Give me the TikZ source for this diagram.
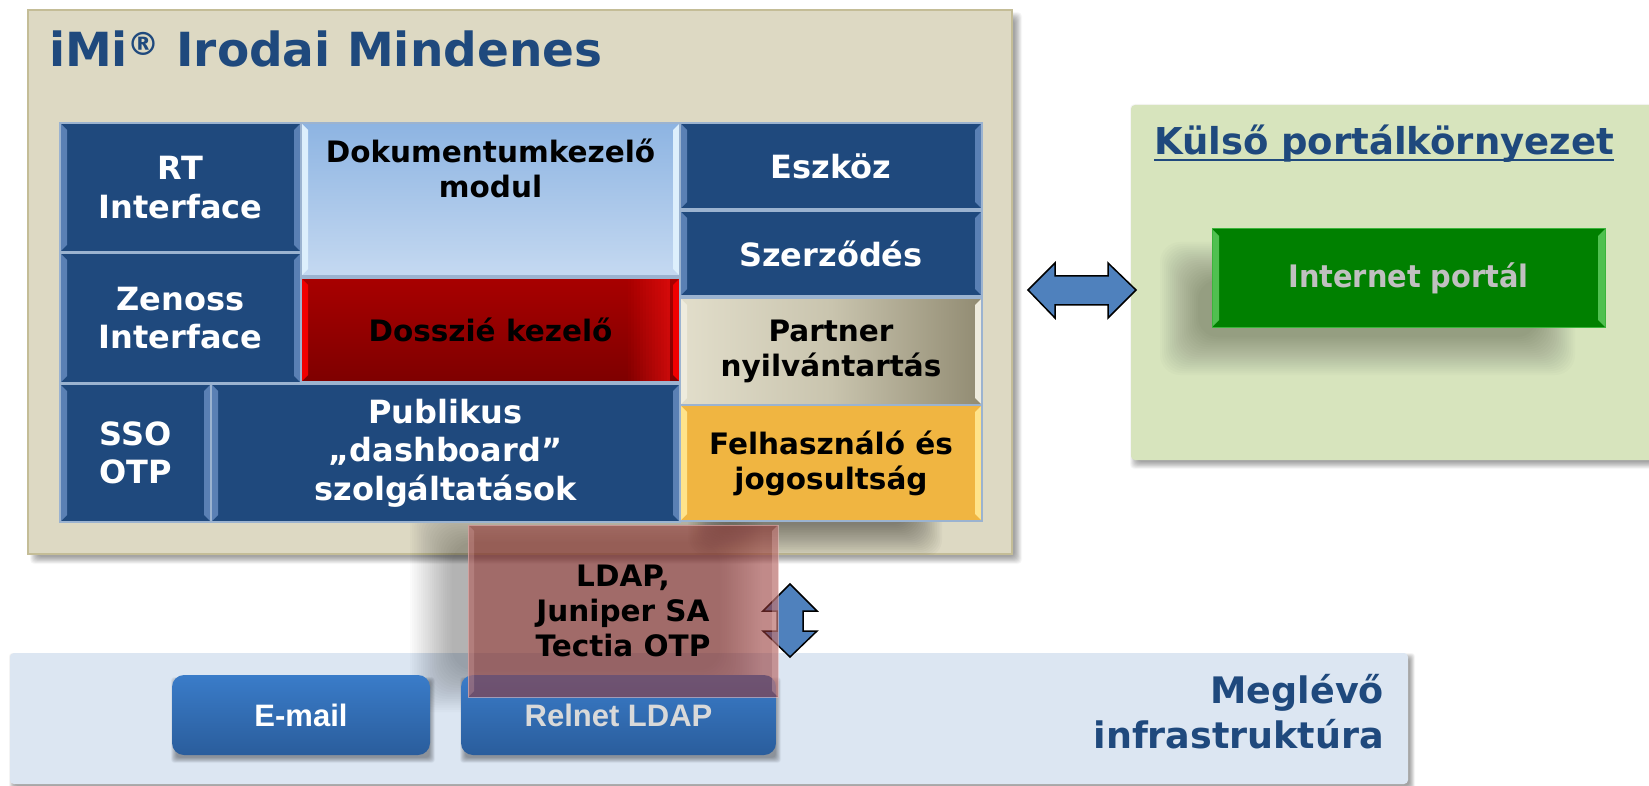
\documentclass[tikz,border=0pt]{standalone}
\usepackage{fontspec}
\setmainfont{DejaVu Sans}
\newfontfamily\arialfont{Liberation Sans}
\usepackage{graphicx}
\definecolor{titleblue}{HTML}{1F497D}
\definecolor{boxblue}{HTML}{1F497D}
\definecolor{bevblue}{HTML}{5A80B4}
\definecolor{gridline}{HTML}{9BB3D0}
\definecolor{beige}{HTML}{DDD9C3}
\definecolor{beigeline}{HTML}{C4BD97}
\definecolor{greenbg}{HTML}{D7E4BD}
\definecolor{infrabg}{HTML}{DCE6F2}
\definecolor{arrowblue}{HTML}{4F81BD}
\definecolor{doktop}{HTML}{8DB4E2}
\definecolor{dokbot}{HTML}{C5D9F1}
\definecolor{dokbev}{HTML}{DDEFFC}
\definecolor{redtop}{HTML}{A80000}
\definecolor{redbot}{HTML}{7E0000}
\definecolor{redbev}{HTML}{F00000}
\definecolor{redglow}{HTML}{F01010}
\definecolor{parleft}{HTML}{E2DECB}
\definecolor{parmid}{HTML}{C9C4AE}
\definecolor{parright}{HTML}{918B72}
\definecolor{parbev}{HTML}{EEEBDD}
\definecolor{felfill}{HTML}{F0B541}
\definecolor{felbev}{HTML}{FFE38A}
\definecolor{portalgreen}{HTML}{008000}
\definecolor{portalbev}{HTML}{50C050}
\definecolor{portalline}{HTML}{3CB43C}
\definecolor{portaltext}{HTML}{C0C0C0}
\definecolor{btntop}{HTML}{3A7CC9}
\definecolor{btnbot}{HTML}{2A5D9C}
\definecolor{ldapred}{HTML}{953735}
\definecolor{ldapbev}{HTML}{E8B8B6}
\newcommand\cellat[7]{%
  \pgfmathsetmacro\cellw{#4-#2}\pgfmathsetmacro\cellh{#5-#3}%
  \pgfmathsetmacro\cellx{(#2+#4)/2}\pgfmathsetmacro\celly{(#3+#5)/2}%
  \node[#6, minimum width=\cellw pt, minimum height=\cellh pt] (#1) at (\cellx,\celly) {#7};}
\newcommand\softshadow[7]{%
  \foreach \k in {0,...,19}{%
    \fill[#7, opacity=#6, rounded corners=#5/2 pt] ({#1-#5/2+\k*#5/20},{#2-#5/2+\k*#5/20}) rectangle ({#3+#5/2-\k*#5/20},{#4+#5/2-\k*#5/20});
  }}
\tikzset{
  cell/.style={rectangle, inner sep=0pt, outer sep=0pt, align=center},
  bevel/.style={path picture={
    \fill[#1] (path picture bounding box.north west) -- ++(7pt,-7pt) -- ([shift={(7pt,7pt)}]path picture bounding box.south west) -- (path picture bounding box.south west) -- cycle;
    \fill[#1] (path picture bounding box.north east) -- ++(-7pt,-7pt) -- ([shift={(-7pt,7pt)}]path picture bounding box.south east) -- (path picture bounding box.south east) -- cycle;}},
  bluecell/.style={cell, fill=boxblue, draw=gridline, line width=1.2pt, bevel=bevblue, text=white, font=\bfseries\fontsize{32}{38.5}\selectfont},
  colcell/.style={cell, draw=gridline, line width=1.2pt, text=black, font=\bfseries\fontsize{29.5}{35}\selectfont},
  panel/.style={cell},
  button/.style={cell, rounded corners=12pt, top color=btntop, bottom color=btnbot, font=\arialfont\bfseries\fontsize{31}{31}\selectfont},
  blockarrow/.style={fill=arrowblue, draw=black, line width=1.5pt, line join=miter},
  heading/.style={inner sep=0pt, outer sep=0pt, text=titleblue, font=\bfseries}
}
\begin{document}
\begin{tikzpicture}[x=1pt,y=-1pt]
\useasboundingbox (0,0) rectangle (1649,786);
\fill[white] (0,0) rectangle (1649,786);
% background panels
\softshadow{12}{656}{1412}{788}{6}{0.02}{black}
\cellat{infra}{10}{653}{1408}{784}{panel, fill=infrabg, rounded corners=4pt}{}
\softshadow{1134}{108}{1660}{465}{8}{0.02}{black}
\cellat{kulsobox}{1131}{105}{1660}{460}{panel, fill=greenbg, rounded corners=4pt}{}
\softshadow{34}{16}{1018}{560}{8}{0.02}{black}
\cellat{imi}{28}{10}{1012}{554}{panel, fill=beige, draw=beigeline, line width=2pt}{}
% shadows near LDAP box
\begin{scope}
  \clip (28,10) rectangle (1012,554);
  \softshadow{705}{470}{925}{540}{34}{0.022}{black}
\end{scope}
\softshadow{432}{522}{740}{690}{44}{0.015}{black}
% title
\node[heading, anchor=base west, font=\bfseries\fontsize{47}{47}\selectfont] (title) at (49,67)
  {iMi\raisebox{11pt}{\fontsize{32}{32}\selectfont ®} Irodai Mindenes};
% grid cells
\cellat{rt}{60}{123}{301}{252}{bluecell}{RT\\Interface}
\cellat{zen}{60}{253}{301}{383}{bluecell}{Zenoss\\Interface}
\cellat{sso}{60}{384}{211}{522}{bluecell}{SSO\\OTP}
\cellat{pub}{211}{384}{680}{522}{bluecell}{Publikus\\„dashboard”\\szolgáltatások}
\cellat{dok}{301}{123}{680}{276}{colcell, top color=doktop, bottom color=dokbot, bevel=dokbev}{}
\node[anchor=base, inner sep=0pt, font=\bfseries\fontsize{29.5}{35}\selectfont] (dok1) at (dok.center |- 0,163) {Dokumentumkezelő};
\node[anchor=base, inner sep=0pt, font=\bfseries\fontsize{29.5}{35}\selectfont] (dok2) at (dok.center |- 0,198) {modul};
\cellat{dos}{301}{278}{680}{382}{colcell, top color=redtop, bottom color=redbot, bevel=redbev}{}
\foreach \i in {0,...,13}{%
  \fill[redglow, opacity={0.05+\i*0.045}] ({628+\i*3},279) rectangle ({631+\i*3},381);
}
\node[anchor=center, inner sep=0pt, font=\bfseries\fontsize{29.5}{35}\selectfont] (dostext) at (dos.center) {Dosszié kezelő};
\cellat{esz}{680}{123}{982}{209}{bluecell}{Eszköz}
\cellat{sze}{680}{211}{982}{296}{bluecell}{Szerződés}
\cellat{par}{680}{298}{982}{405}{colcell, left color=parleft, right color=parright, middle color=parmid, bevel=parbev}{Partner\\nyilvántartás}
\cellat{fel}{680}{405}{982}{521}{colcell, fill=felfill, bevel=felbev}{Felhasználó és\\jogosultság}
% external portal
\node[heading, anchor=base west, font=\bfseries\fontsize{37}{37}\selectfont] (kulso) at (1154,155) {Külső portálkörnyezet};
\draw[titleblue, line width=2.5pt] ([yshift=-5pt]kulso.base west) -- ([yshift=-5pt]kulso.base east);
\softshadow{1180}{262}{1555}{355}{40}{0.017}{black}
\cellat{portal}{1212}{229}{1605}{327}{cell, fill=portalgreen, draw=portalline, line width=1pt, bevel=portalbev, text=portaltext, font=\bfseries\fontsize{31}{31}\selectfont}{\scalebox{0.93}[1]{Internet portál}}
% infrastructure
\node[heading, anchor=base east, font=\bfseries\fontsize{36.5}{36.5}\selectfont] (meg) at (1384,703) {Meglévő};
\node[heading, anchor=base east, font=\bfseries\fontsize{36.5}{36.5}\selectfont] (infratext) at (1384,748) {infrastruktúra};
\softshadow{174}{680}{432}{760}{6}{0.02}{black}
\softshadow{463}{680}{778}{760}{6}{0.02}{black}
\cellat{email}{172}{675}{430}{755}{button, text=white}{E-mail}
\cellat{relnet}{461}{675}{776}{755}{button, text=white!85!black}{Relnet LDAP}
% block arrows
\draw[blockarrow] (1028,290) -- (1055,263) -- (1055,276) -- (1108,276) -- (1108,263) -- (1136,290)
  -- (1108,318) -- (1108,305) -- (1055,305) -- (1055,318) -- cycle;
\draw[blockarrow] (790,584) -- (817,611) -- (803,611) -- (803,631) -- (817,631) -- (790,657)
  -- (763,631) -- (777,631) -- (777,611) -- (763,611) -- cycle;
% LDAP overlay
\cellat{ldap}{468}{525}{778}{697}{cell, fill=ldapred, fill opacity=0.58, draw=ldapbev, draw opacity=0.6, line width=1pt}{}
\fill[ldapbev, opacity=0.35] (ldap.north east) -- ++(-6pt,-6pt) -- ([shift={(-6pt,6pt)}]ldap.south east) -- (ldap.south east) -- cycle;
\fill[ldapbev, opacity=0.25] (ldap.north west) -- ++(6pt,-6pt) -- ([shift={(6pt,6pt)}]ldap.south west) -- (ldap.south west) -- cycle;
\node[inner sep=0pt, font=\bfseries\fontsize{29.5}{35}\selectfont, anchor=base] (ldap1) at (623,586) {LDAP,};
\node[inner sep=0pt, font=\bfseries\fontsize{29.5}{35}\selectfont, anchor=base] (ldap2) at (623,621) {Juniper SA};
\node[inner sep=0pt, font=\bfseries\fontsize{29.5}{35}\selectfont, anchor=base] (ldap3) at (623,656) {Tectia OTP};
\end{tikzpicture}
\end{document}
